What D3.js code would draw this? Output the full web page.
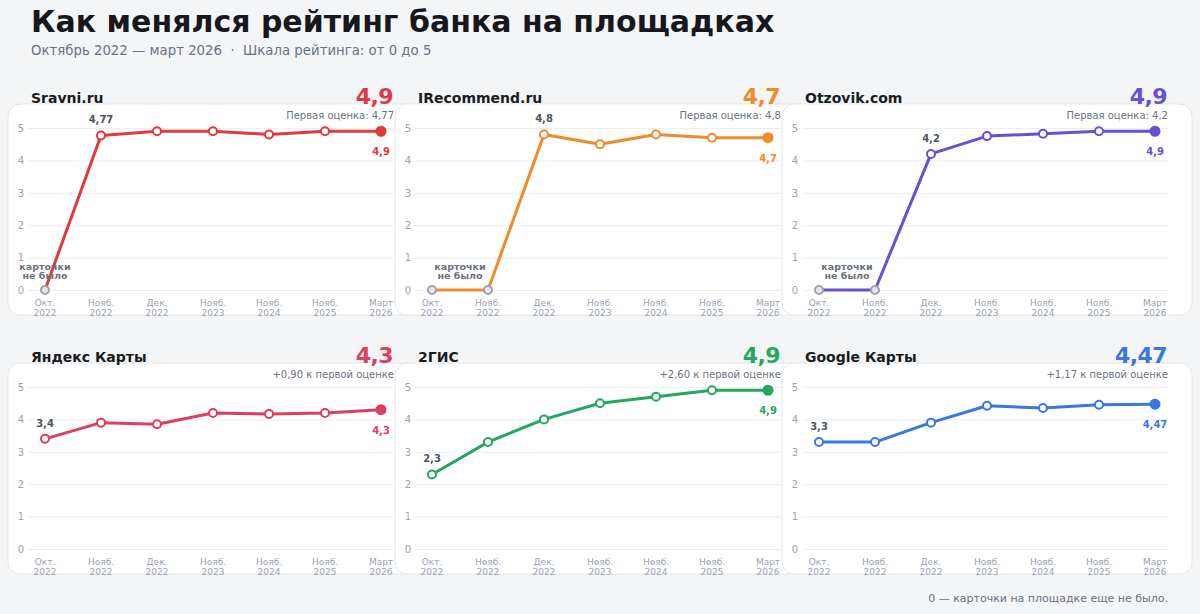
<!DOCTYPE html>
<html>
<head>
<meta charset="utf-8">
<script src="https://cdn.jsdelivr.net/npm/d3@7"></script>
<style>
	body { margin: 0; background: #f4f5f7; }
	svg { display: block; font-family: "DejaVu Sans", sans-serif; }
</style>
</head>
<body>
<svg id="chart" width="1200" height="614"></svg>
<script>
//periods on the x axis, two lines per tick
var months = ["Окт.", "Нояб.", "Дек.", "Нояб.", "Нояб.", "Нояб.", "Март"];
var years = ["2022", "2022", "2022", "2023", "2024", "2025", "2026"];
var yTicks = [0, 1, 2, 3, 4, 5];

var platforms = ["Sravni.ru", "IRecommend.ru", "Otzovik.com", "Яндекс Карты", "2ГИС", "Google Карты"];
var colors = ["#e0393e", "#f08a2a", "#6b4fd0", "#dd3f5e", "#24a75f", "#3a77e0"];

//0 = no card on the platform yet
var sravni = [0, 4.77, 4.9, 4.9, 4.8, 4.9, 4.9];
var irecommend = [0, 0, 4.8, 4.5, 4.8, 4.7, 4.7];
var otzovik = [0, 0, 4.2, 4.75, 4.82, 4.9, 4.9];
var yandex = [3.4, 3.9, 3.85, 4.2, 4.17, 4.2, 4.3];
var gis = [2.3, 3.3, 4.0, 4.5, 4.7, 4.9, 4.9];
var google = [3.3, 3.3, 3.9, 4.42, 4.35, 4.45, 4.47];

var series = [sravni, irecommend, otzovik, yandex, gis, google];

var svg = d3.select("#chart");

function fmt(v){
	return String(v).replace(".", ",");
}

svg.append("text")
	.attr("x", 31).attr("y", 32)
	.style("font-size", "30px").style("font-weight", "bold")
	.style("fill", "#16181d")
	.text("Как менялся рейтинг банка на площадках");

svg.append("text")
	.attr("x", 31).attr("y", 55)
	.style("font-size", "13.3px").style("fill", "#6b7280")
	.style("white-space", "pre")
	.text("Октябрь 2022 — март 2026  ·  Шкала рейтинга: от 0 до 5");

svg.append("text")
	.attr("x", 1168).attr("y", 602)
	.attr("text-anchor", "end")
	.style("font-size", "11px").style("fill", "#6b7280")
	.text("0 — карточки на площадке еще не было.");

function drawPanel(i){
	var col = i % 3, row = Math.floor(i / 3);
	var ox = col * 387, oy = row * 259;
	var data = series[i], color = colors[i];
	var g = svg.append("g");

	g.append("rect")
		.attr("x", 8 + ox).attr("y", 104 + oy)
		.attr("width", 410).attr("height", 211)
		.attr("rx", 12)
		.style("fill", "#fff").style("stroke", "#e4e6ea");

	g.append("text")
		.attr("x", 31 + ox).attr("y", 103 + oy)
		.style("font-size", "14px").style("font-weight", "bold").style("fill", "#1a1c20")
		.text(platforms[i]);

	var last = data[data.length - 1];
	g.append("text")
		.attr("x", 393 + ox).attr("y", 103.5 + oy)
		.attr("text-anchor", "end")
		.style("font-size", "22px").style("font-weight", "bold").style("fill", color)
		.style("letter-spacing", "-0.6px")
		.text(fmt(last));

	var firstIdx = data.findIndex(function(v){ return v > 0; });
	var first = data[firstIdx];
	var note = firstIdx > 0
		? "Первая оценка: " + fmt(first)
		: "+" + d3.format(".2f")(last - first).replace(".", ",") + " к первой оценке";
	g.append("text")
		.attr("x", 394 + ox).attr("y", 119 + oy)
		.attr("text-anchor", "end")
		.style("font-size", "10px").style("fill", "#6b7280")
		.text(note);

	var x = d3.scalePoint().domain(d3.range(data.length)).range([45 + ox, 381 + ox]);
	var y = d3.scaleLinear().domain([0, 5]).range([290 + oy, 128 + oy]);

	var yAxis = g.append("g")
		.attr("transform", "translate(" + (28 + ox) + ",0)")
		.call(d3.axisLeft(y).tickValues(yTicks).tickFormat(d3.format("d")).tickSize(-366).tickPadding(4));
	yAxis.select(".domain").remove();
	yAxis.selectAll("line").style("stroke", "#eceef1");
	yAxis.selectAll("text").style("font-size", "10px").style("fill", "#9ca3af")
		.style("font-family", "DejaVu Sans");

	var xl = g.selectAll(".xl").data(months).enter().append("text")
		.attr("text-anchor", "middle")
		.attr("x", function(d, j){ return x(j); })
		.attr("y", 306 + oy)
		.style("font-size", "9px").style("fill", "#9ca3af");
	xl.append("tspan").text(function(d){ return d; });
	xl.append("tspan")
		.attr("x", function(d, j){ return x(j); })
		.attr("dy", 10)
		.text(function(d, j){ return years[j]; });

	g.append("path")
		.datum(data)
		.attr("d", d3.line().x(function(d, j){ return x(j); }).y(function(d){ return y(d); }))
		.style("fill", "none").style("stroke", color)
		.style("stroke-width", 3).style("stroke-linejoin", "round");

	g.selectAll(".pt").data(data).enter().append("circle")
		.attr("cx", function(d, j){ return x(j); })
		.attr("cy", function(d){ return y(d); })
		.attr("r", function(d, j){ return j == data.length - 1 ? 4.5 : 4; })
		.style("fill", function(d, j){
			if(d == 0) return "#e5e7eb";
			return j == data.length - 1 ? color : "#fff";
		})
		.style("stroke", function(d){ return d == 0 ? "#9ca3af" : color; })
		.style("stroke-width", 2);

	//first real rating above its point
	g.append("text")
		.attr("x", x(firstIdx)).attr("y", y(first) - 12)
		.attr("text-anchor", "middle")
		.style("font-size", "10px").style("font-weight", "bold").style("fill", "#4b5563")
		.text(fmt(first));

	g.append("text")
		.attr("x", x(data.length - 1)).attr("y", y(last) + 24)
		.attr("text-anchor", "middle")
		.style("font-size", "10px").style("font-weight", "bold").style("fill", color)
		.text(fmt(last));

	//note over the months with no card
	if(firstIdx > 0){
		var cx = d3.mean(d3.range(firstIdx), function(j){ return x(j); });
		var nt = g.append("text")
			.attr("text-anchor", "middle")
			.attr("x", cx).attr("y", 270 + oy)
			.style("font-size", "9.5px").style("font-weight", "bold").style("fill", "#6b7280");
		nt.append("tspan").text("карточки");
		nt.append("tspan").attr("x", cx).attr("dy", 9).text("не было");
	}
}

for(var i = 0; i < series.length; i++){
	drawPanel(i);
}
</script>
</body>
</html>
